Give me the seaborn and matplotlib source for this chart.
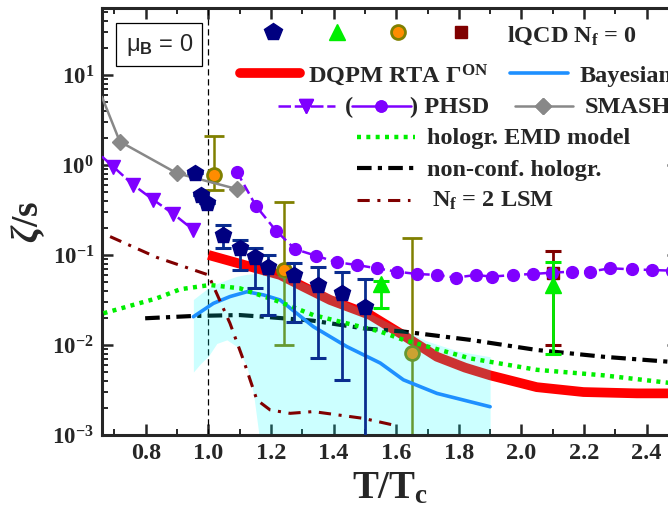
import numpy as np
import matplotlib
matplotlib.use('Agg')
import matplotlib.pyplot as plt
from matplotlib.lines import Line2D
from matplotlib.patches import Rectangle
from matplotlib.ticker import MultipleLocator, LogLocator, FuncFormatter, NullFormatter
import seaborn as sns

# lQCD N_f = 0 (pentagons)
pent_x = [0.957, 0.975, 0.995, 1.048, 1.101, 1.149, 1.192, 1.272, 1.351, 1.426, 1.50]
pent_y = [0.81, 0.46, 0.38, 0.167, 0.119, 0.096, 0.074, 0.060, 0.046, 0.0375, 0.0267]
pent_hi = [0.81, 0.46, 0.38, 0.215, 0.147, 0.121, 0.100, 0.082, 0.074, 0.065, 0.054]
pent_lo = [0.81, 0.46, 0.38, 0.119, 0.068, 0.0427, 0.0215, 0.018, 0.0071, 0.0041, 0.0005]
# lQCD (circles)
circ_x = [1.018, 1.24, 1.65]
circ_y = [0.77, 0.068, 0.0081]
circ_hi = [2.1, 0.39, 0.156]
circ_lo = [0.53, 0.010, 0.0005]
# lQCD (triangles)
tri_x = [1.551, 2.10]
tri_y = [0.048, 0.046]
tri_hi = [0.052, 0.083]
tri_lo = [0.0255, 0.0079]
# lQCD (square)
sq_x = [2.10]
sq_y = [0.0636]
sq_hi = [0.112]
sq_lo = [0.010]

# DQPM RTA
dqpm_x = [1.0, 1.1, 1.229, 1.3, 1.389, 1.517, 1.62, 1.73, 1.82, 1.9, 2.049, 2.198, 2.369, 2.5]
dqpm_y = [0.1, 0.08, 0.06, 0.045, 0.0316, 0.0215, 0.013, 0.0074, 0.0056, 0.0046, 0.0034, 0.0030, 0.0029, 0.0029]
# Bayesian
bay_x = [0.952, 1.016, 1.069, 1.123, 1.176, 1.229, 1.335, 1.442, 1.549, 1.623, 1.730, 1.90]
bay_y = [0.0206, 0.029, 0.0345, 0.039, 0.036, 0.0316, 0.016, 0.0096, 0.0063, 0.0041, 0.0029, 0.00206]
band_x = [0.952, 0.975, 1.0, 1.027, 1.059, 1.091, 1.123, 1.144, 1.16, 1.17, 1.2, 1.3, 1.4, 1.5, 1.6, 1.7, 1.8, 1.9]
band_hi = [0.032, 0.037, 0.043, 0.048, 0.053, 0.058, 0.061, 0.062, 0.063, 0.063, 0.062, 0.05, 0.035, 0.024, 0.016, 0.011, 0.0085, 0.0074]
band_lo = [0.005, 0.0062, 0.0075, 0.0104, 0.0114, 0.0096, 0.0057, 0.0029, 0.0011, 1e-4, 1e-4, 1e-4, 1e-4, 1e-4, 1e-4, 1e-4, 1e-4, 1e-4]
# PHSD
phsd_h_x = [0.66, 0.696, 0.760, 0.824, 0.888, 0.952]
phsd_h_y = [1.24, 0.957, 0.60, 0.41, 0.286, 0.19]
phsd_q_x = [1.091, 1.152, 1.216, 1.277, 1.344, 1.410, 1.474, 1.538, 1.602, 1.666, 1.730, 1.790,
            1.855, 1.905, 1.974, 2.038, 2.097, 2.161, 2.219, 2.283, 2.353, 2.417, 2.48]
phsd_q_y = [0.84, 0.35, 0.186, 0.116, 0.098, 0.083, 0.0774, 0.0711, 0.0652, 0.0615, 0.060, 0.056,
            0.060, 0.0574, 0.060, 0.0615, 0.0636, 0.0652, 0.0652, 0.0711, 0.0693, 0.068, 0.067]
# SMASH
smash_x = [0.66, 0.717, 0.899, 1.091]
smash_y = [5.7, 1.82, 0.81, 0.54]
# holographic models
emd_x = [0.665, 0.835, 0.91, 1.005, 1.101, 1.229, 1.335, 1.442, 1.549, 1.623, 1.836, 2.049, 2.262, 2.5]
emd_y = [0.0225, 0.033, 0.0416, 0.0464, 0.0426, 0.030, 0.0215, 0.0174, 0.0141, 0.0114, 0.0071, 0.0053, 0.0046, 0.0037]
nch_x = [0.798, 0.952, 1.10, 1.176, 1.335, 1.495, 1.623, 1.836, 2.049, 2.262, 2.5]
nch_y = [0.0198, 0.021, 0.0215, 0.0206, 0.0186, 0.0153, 0.0141, 0.0114, 0.0088, 0.0074, 0.0064]
# N_f = 2 LSM
lsm_x = [0.686, 0.835, 1.0, 1.069, 1.112, 1.155, 1.197, 1.261, 1.335, 1.495, 1.591, 1.60]
lsm_y = [0.16, 0.094, 0.060, 0.0174, 0.0068, 0.00245, 0.0019, 0.00174, 0.00182, 0.00153, 0.00129, 0.0012]

NAVY = '#000080'
NAVY_BAR = '#0a2d8f'
OLIVE = '#808000'
GREEN = '#00ee00'
DRED = '#800000'
PURPLE = '#7f00ff'
BLUE = '#1e90ff'
GRAY = '#888888'

sns.set_style('ticks')
plt.rcParams['font.family'] = ['Liberation Serif', 'DejaVu Serif']
plt.rcParams['font.weight'] = 'bold'
plt.rcParams['axes.labelweight'] = 'bold'
plt.rcParams['mathtext.fontset'] = 'custom'
plt.rcParams['mathtext.rm'] = 'Liberation Serif:bold'
plt.rcParams['mathtext.bf'] = 'Liberation Serif:bold'
plt.rcParams['mathtext.it'] = 'Liberation Serif:bold:italic'
plt.rcParams['mathtext.sf'] = 'Liberation Sans'

fig = plt.figure(figsize=(6.68, 5.09), dpi=100)
ax = fig.add_axes([0.1531, 0.1454, 0.8618, 0.8383])
ax.set_yscale('log')


def curve(x, y, **kw):
    sns.lineplot(x=x, y=y, ax=ax, sort=False, estimator=None, legend=False, **kw)


# lines beneath the band
curve(dqpm_x, dqpm_y, color='red', lw=7, solid_capstyle='butt', zorder=2)
curve(nch_x, nch_y, color='black', lw=3, linestyle=(0, (3.5, 1.5, 1, 1.5)), zorder=2)
ax.errorbar(circ_x, circ_y, yerr=[np.subtract(circ_y, circ_lo), np.subtract(circ_hi, circ_y)],
            fmt='o', ms=10, mfc='#ff8c00', mec=OLIVE, mew=2, ecolor=OLIVE, elinewidth=1.8,
            capsize=7, capthick=2.2, zorder=2.2)

ax.fill_between(band_x, band_lo, band_hi, color='cyan', alpha=0.2, lw=0, zorder=2.5)

curve(bay_x, bay_y, color=BLUE, lw=2.6, zorder=3)
curve(emd_x, emd_y, color=GREEN, lw=3.2, linestyle=(0, (0.9, 1.2)), zorder=3)
curve(lsm_x, lsm_y, color=DRED, lw=2.2, linestyle=(0, (4, 2.5, 1, 2.5)), zorder=3)
ax.errorbar(sq_x, sq_y, yerr=[np.subtract(sq_y, sq_lo), np.subtract(sq_hi, sq_y)],
            fmt='s', ms=8, color=DRED, ecolor=DRED, elinewidth=2, capsize=6, capthick=2.2, zorder=3.5)

ax.plot(smash_x, smash_y, color=GRAY, lw=1.8, marker='D', ms=8.5, markevery=[1, 2, 3], zorder=4)
ax.plot(phsd_h_x, phsd_h_y, color=PURPLE, lw=1.8, ls=(0, (5, 1.5)), marker='v', ms=10,
        markevery=list(range(1, len(phsd_h_x))), zorder=4)
ax.plot(phsd_q_x, phsd_q_y, color=PURPLE, lw=1.8, ls=(0, (4, 2)), marker='o', ms=8.5, zorder=4)

ax.errorbar(pent_x, pent_y, yerr=[np.subtract(pent_y, pent_lo), np.subtract(pent_hi, pent_y)],
            fmt='p', ms=12, color=NAVY, ecolor=NAVY_BAR, elinewidth=2, capsize=5.5, capthick=2.2, zorder=5)
ax.errorbar(tri_x, tri_y, yerr=[np.subtract(tri_y, tri_lo), np.subtract(tri_hi, tri_y)],
            fmt='^', ms=11, color=GREEN, ecolor=GREEN, elinewidth=2, capsize=6, capthick=2.2, zorder=5)

ax.axvline(1.0, color='black', lw=0.9, ls=(0, (5, 3)), zorder=1.5)

ax.set_xlim(0.661, 2.5)
ax.set_ylim(1e-3, 55)
ax.xaxis.set_major_locator(MultipleLocator(0.2))
ax.xaxis.set_minor_locator(MultipleLocator(0.1))
ax.xaxis.set_major_formatter(FuncFormatter(lambda v, p: '%.1f' % v))
ax.yaxis.set_major_locator(LogLocator(base=10, numticks=10))
ax.yaxis.set_minor_locator(LogLocator(base=10, subs=np.arange(2, 10), numticks=12))
ax.yaxis.set_major_formatter(FuncFormatter(lambda v, p: r'$\mathbf{10^{%d}}$' % round(np.log10(v))))
ax.yaxis.set_minor_formatter(NullFormatter())
ax.tick_params(which='both', direction='in', top=True, right=True)
ax.tick_params(axis='x', labelsize=17.5)
ax.tick_params(axis='y', labelsize=16.5)
ax.tick_params(which='major', length=8, width=1.8, pad=6)
ax.tick_params(which='minor', length=4.5, width=1.4)
for s in ax.spines.values():
    s.set_linewidth(2.2)
ax.set_xlabel(r'T/T$_\mathbf{c}$', fontsize=28, labelpad=4)
ax.set_ylabel(r'$\zeta$/s', fontsize=27, labelpad=4)


# legend, placed in figure pixels
def P(x, y):
    return x / 668, 1 - y / 509


def key(x0, x1, y, **kw):
    (a, b), (c, d) = P(x0, y), P(x1, y)
    fig.add_artist(Line2D([a, c], [b, d], transform=fig.transFigure, **kw))


def label(x, y, s, **kw):
    kw.setdefault('fontsize', 17.5)
    fig.text(*P(x, y), s, va='baseline', ha='left', **kw)


for xm, mk, kw in [(273, 'p', dict(color=NAVY, ms=13)),
                   (337, '^', dict(color=GREEN, ms=12)),
                   (398, 'o', dict(mfc='#ff8c00', mec=OLIVE, mew=2, ms=10)),
                   (461, 's', dict(color=DRED, ms=9))]:
    fig.add_artist(Line2D([P(xm, 32)[0]], [P(xm, 32)[1]], transform=fig.transFigure,
                          marker=mk, ls='none', **kw))
label(507, 42, r'lQCD N$_\mathbf{f}$ = 0')

key(240, 300, 73, color='red', lw=7, solid_capstyle='round')
label(308, 82, r'DQPM RTA Γ$^\mathbf{ON}$')
key(510, 568, 73, color=BLUE, lw=2.6)
label(580, 82, 'Bayesian')

key(278, 335, 106, color=PURPLE, lw=1.8, ls=(0, (5, 1.5)))
key(306, 306, 106, color=PURPLE, marker='v', ms=10, ls='none')
label(345, 113, '(')
key(352, 411, 106, color=PURPLE, lw=1.8)
key(381, 381, 106, color=PURPLE, marker='o', ms=8, ls='none')
label(410, 113, ') PHSD')
key(515, 573, 106, color=GRAY, lw=1.8)
key(543, 543, 106, color=GRAY, marker='D', ms=8, ls='none')
label(585, 113, 'SMASH')

key(357, 415, 137, color=GREEN, lw=3.2, ls=(0, (0.9, 1.2)))
label(427, 144, 'hologr. EMD model')
key(357, 415, 168, color='black', lw=3, ls=(0, (3.5, 1.5, 1, 1.5)))
label(427, 176, 'non-conf. hologr.')
key(357, 410, 200, color=DRED, lw=2.2, ls=(0, (4, 2.5, 1, 2.5)))
label(432, 207, r'N$_\mathbf{f}$ = 2 LSM')

fig.add_artist(Rectangle(P(116, 66), 86 / 668, 43 / 509, transform=fig.transFigure,
                         fill=False, lw=0.9, ec='black'))
fig.text(*P(126, 51), r'μ$_\mathsf{B}$ = 0', fontsize=17, fontweight='normal',
         family='Liberation Sans', va='baseline')

fig.savefig('out.png', dpi=100)
